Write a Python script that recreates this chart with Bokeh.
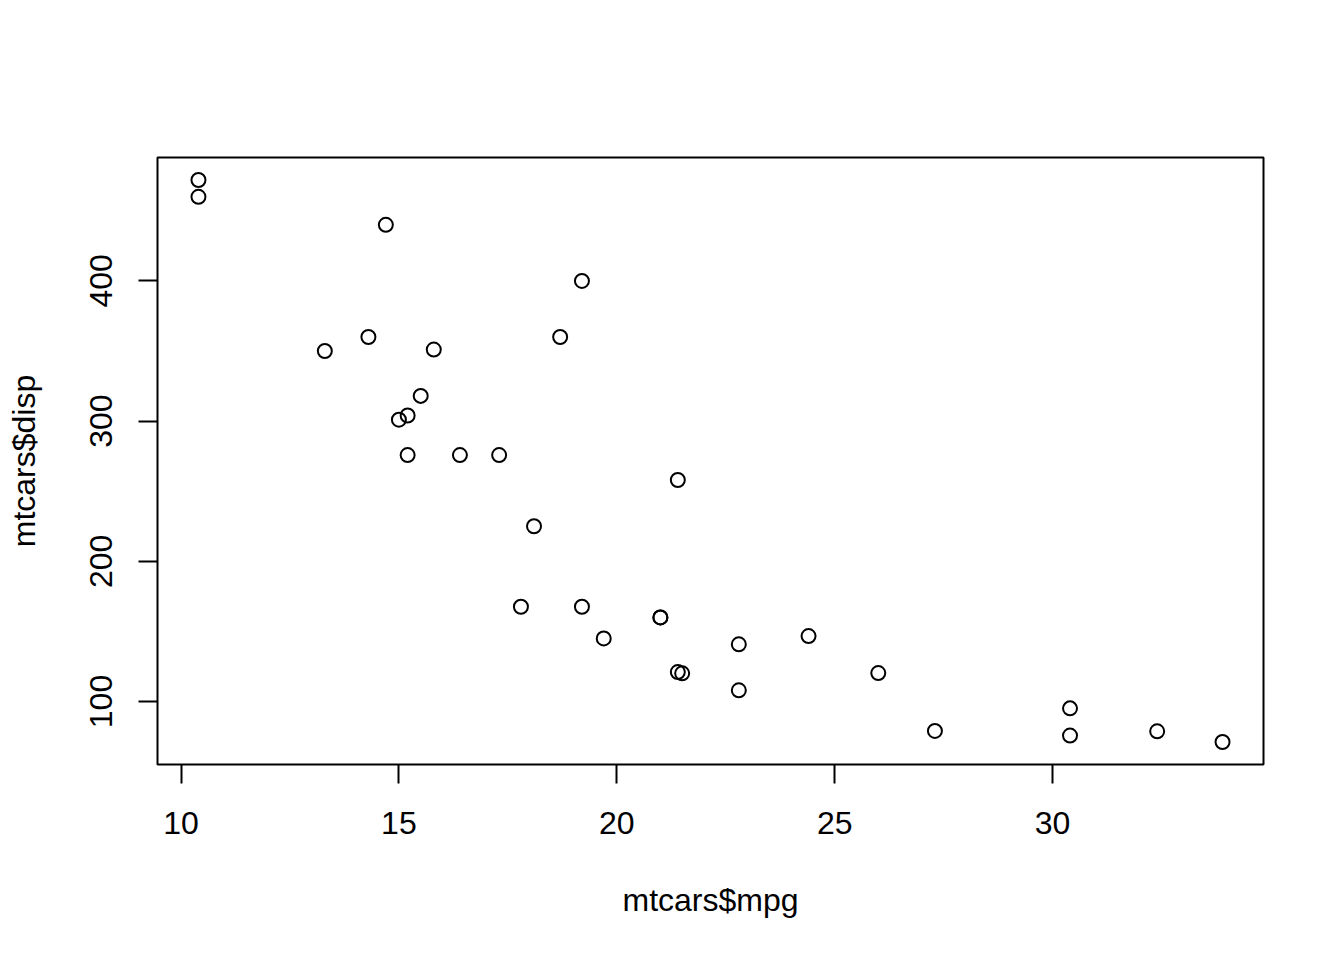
from bokeh.plotting import figure
from bokeh.models import Range1d, FixedTicker
from bokeh.embed import file_html
from bokeh.resources import INLINE

mpg = [21.0, 21.0, 22.8, 21.4, 18.7, 18.1, 14.3, 24.4, 22.8, 19.2, 17.8, 16.4,
       17.3, 15.2, 10.4, 10.4, 14.7, 32.4, 30.4, 33.9, 21.5, 15.5, 15.2, 13.3,
       19.2, 27.3, 26.0, 30.4, 15.8, 19.7, 15.0, 21.4]
disp = [160, 160, 108, 258, 360, 225, 360, 146.7, 140.8, 167.6, 167.6, 275.8,
        275.8, 275.8, 472, 460, 440, 78.7, 75.7, 71.1, 120.1, 318, 304, 350,
        400, 79, 120.3, 95.1, 351, 145, 301, 121]
x_ticks = [10, 15, 20, 25, 30]
y_ticks = [100, 200, 300, 400]
x_title = "mtcars$mpg"
y_title = "mtcars$disp"

xpad = (max(mpg) - min(mpg)) * 0.04
ypad = (max(disp) - min(disp)) * 0.04

p = figure(output_backend="svg", toolbar_location=None,
           frame_width=1106, frame_height=607,
           min_border_left=157, min_border_right=73,
           min_border_top=157, min_border_bottom=188,
           x_range=Range1d(min(mpg) - xpad, max(mpg) + xpad),
           y_range=Range1d(min(disp) - ypad, max(disp) + ypad),
           background_fill_color="white", border_fill_color="white")

p.grid.visible = False
p.outline_line_color = "black"
p.outline_line_width = 2
p.outline_line_alpha = 1.0

p.scatter(mpg, disp, marker="circle", size=14, fill_color=None,
          line_color="black", line_width=2)

font = "Liberation Sans"
for ax in (p.xaxis[0], p.yaxis[0]):
    ax.axis_line_color = None
    ax.major_tick_line_color = "black"
    ax.major_tick_line_width = 2
    ax.major_tick_in = 0
    ax.major_tick_out = 19
    ax.minor_tick_line_color = None
    ax.major_label_text_font = font
    ax.major_label_text_font_size = "32px"
    ax.major_label_text_color = "black"
    ax.axis_label_text_font = font
    ax.axis_label_text_font_size = "32px"
    ax.axis_label_text_font_style = "normal"
    ax.axis_label_text_color = "black"

p.xaxis[0].ticker = FixedTicker(ticks=x_ticks)
p.yaxis[0].ticker = FixedTicker(ticks=y_ticks)
p.xaxis[0].bounds = (min(x_ticks), max(x_ticks))
p.yaxis[0].bounds = (min(y_ticks), max(y_ticks))
p.xaxis[0].axis_label = x_title
p.yaxis[0].axis_label = y_title
p.yaxis[0].major_label_orientation = "vertical"
p.xaxis[0].major_label_standoff = 28
p.xaxis[0].axis_label_standoff = 45
p.yaxis[0].major_label_standoff = 26
p.yaxis[0].axis_label_standoff = 46

open("out.html", "w").write(file_html(p, INLINE))
